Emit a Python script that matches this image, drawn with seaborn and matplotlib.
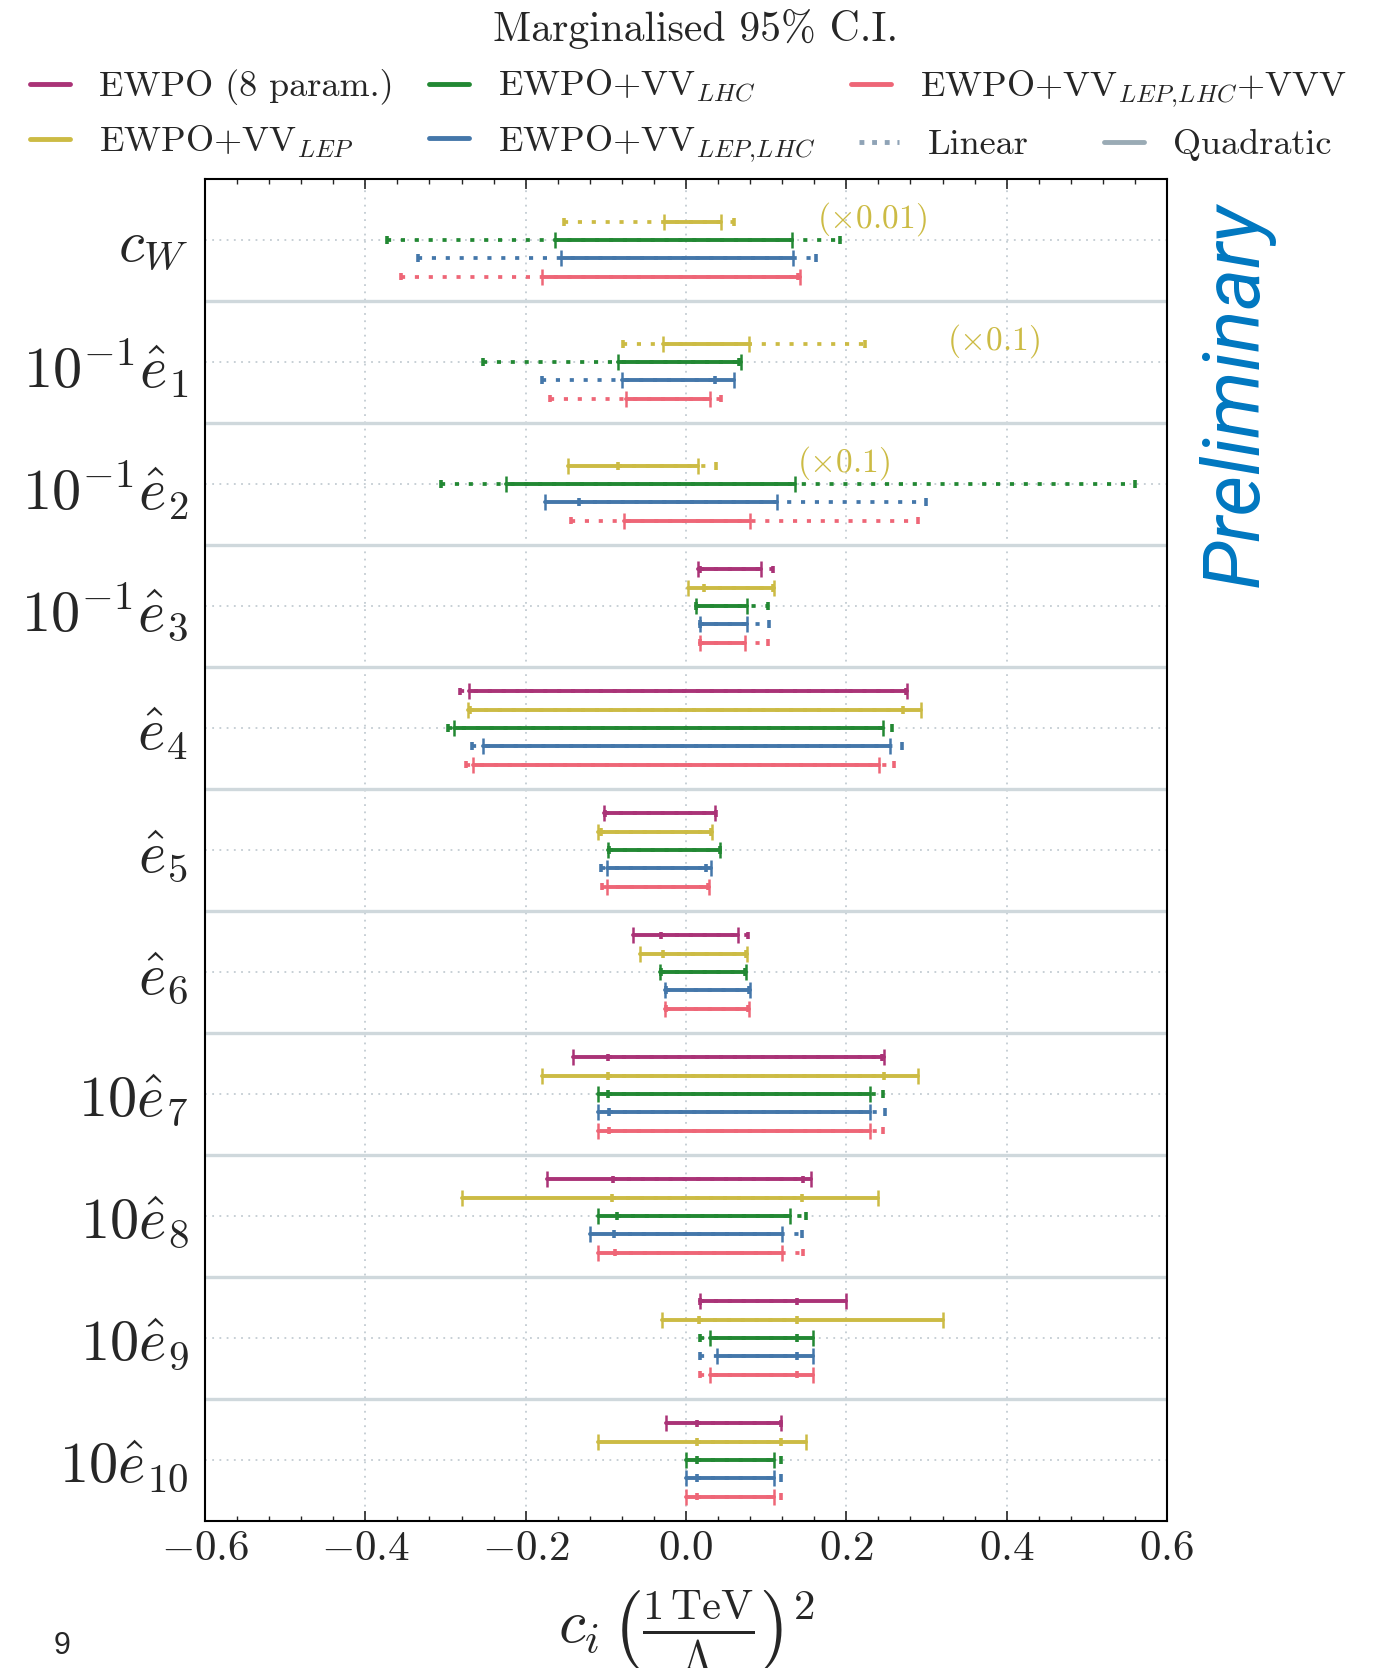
import numpy as np
import pandas as pd
import matplotlib
matplotlib.use("Agg")
import matplotlib.pyplot as plt
from matplotlib.lines import Line2D
from matplotlib.ticker import MultipleLocator
import seaborn as sns

# Wilson coefficients (rows, top to bottom)
params = [r"$c_W$", r"$10^{-1}\hat{e}_1$", r"$10^{-1}\hat{e}_2$", r"$10^{-1}\hat{e}_3$",
          r"$\hat{e}_4$", r"$\hat{e}_5$", r"$\hat{e}_6$", r"$10\hat{e}_7$",
          r"$10\hat{e}_8$", r"$10\hat{e}_9$", r"$10\hat{e}_{10}$"]

datasets = ["EWPO (8 param.)", r"EWPO+VV$_{LEP}$", r"EWPO+VV$_{LHC}$",
            r"EWPO+VV$_{LEP,\!LHC}$", r"EWPO+VV$_{LEP,\!LHC}$+VVV"]
colors = ["#AA3377", "#CCBB44", "#228833", "#4477AA", "#EE6677"]

# 95% C.I. bounds (lo, hi), None where the coefficient is not in the fit
ewpo_linear = [None, None, None, (0.018, 0.108), (-0.282, 0.274), (-0.101, 0.037),
               (-0.031, 0.077), (-0.097, 0.245), (-0.091, 0.146), (0.018, 0.138), (0.014, 0.119)]
ewpo_quadratic = [None, None, None, (0.015, 0.094), (-0.271, 0.276), (-0.102, 0.036),
                  (-0.066, 0.065), (-0.141, 0.247), (-0.173, 0.156), (0.017, 0.199), (-0.025, 0.119)]

lep_linear = [(-0.152, 0.060), (-0.078, 0.223), (-0.085, 0.038), (0.022, 0.108), (-0.270, 0.271),
              (-0.106, 0.031), (-0.029, 0.075), (-0.097, 0.247), (-0.092, 0.145), (0.016, 0.138),
              (0.014, 0.119)]
lep_quadratic = [(-0.027, 0.044), (-0.029, 0.078), (-0.147, 0.015), (0.003, 0.110), (-0.272, 0.293),
                 (-0.110, 0.032), (-0.058, 0.076), (-0.180, 0.290), (-0.280, 0.240), (-0.030, 0.320),
                 (-0.110, 0.150)]

lhc_linear = [(-0.373, 0.192), (-0.253, 0.066), (-0.306, 0.560), (0.013, 0.102), (-0.297, 0.257),
              (-0.096, 0.042), (-0.031, 0.074), (-0.097, 0.246), (-0.086, 0.150), (0.017, 0.138),
              (0.014, 0.119)]
lhc_quadratic = [(-0.164, 0.132), (-0.085, 0.068), (-0.225, 0.136), (0.012, 0.076), (-0.289, 0.246),
                 (-0.097, 0.043), (-0.032, 0.075), (-0.110, 0.229), (-0.110, 0.130), (0.030, 0.159),
                 (0.000, 0.110)]

leplhc_linear = [(-0.334, 0.162), (-0.180, 0.036), (-0.134, 0.299), (0.018, 0.103), (-0.267, 0.269),
                 (-0.106, 0.025), (-0.025, 0.079), (-0.096, 0.248), (-0.090, 0.145), (0.017, 0.138),
                 (0.014, 0.119)]
leplhc_quadratic = [(-0.156, 0.133), (-0.080, 0.060), (-0.176, 0.114), (0.017, 0.076), (-0.253, 0.255),
                    (-0.098, 0.031), (-0.026, 0.080), (-0.110, 0.229), (-0.120, 0.120), (0.039, 0.159),
                    (0.000, 0.110)]

vvv_linear = [(-0.355, 0.140), (-0.170, 0.044), (-0.143, 0.289), (0.018, 0.102), (-0.275, 0.260),
              (-0.105, 0.028), (-0.025, 0.077), (-0.096, 0.246), (-0.089, 0.146), (0.017, 0.138),
              (0.014, 0.119)]
vvv_quadratic = [(-0.180, 0.142), (-0.075, 0.030), (-0.077, 0.080), (0.017, 0.073), (-0.266, 0.241),
                 (-0.099, 0.029), (-0.026, 0.078), (-0.110, 0.229), (-0.110, 0.120), (0.030, 0.159),
                 (0.000, 0.110)]

linear_all = [ewpo_linear, lep_linear, lhc_linear, leplhc_linear, vvv_linear]
quadratic_all = [ewpo_quadratic, lep_quadratic, lhc_quadratic, leplhc_quadratic, vvv_quadratic]

# rescaling notes shown next to the LEP-only bounds
notes = [(0, "(\\times0.01)", 0.163), (1, "(\\times0.1)", 0.325), (2, "(\\times0.1)", 0.139)]

# long table: one row per interval edge
records = []
for j, (name, lin, quad) in enumerate(zip(datasets, linear_all, quadratic_all)):
    for i, (l, q) in enumerate(zip(lin, quad)):
        if l is None:
            continue
        pos = i + (j - 2) * 0.15
        for fit, bounds in (("Linear", l), ("Quadratic", q)):
            for v in bounds:
                records.append({"dataset": name, "fit": fit, "value": v, "pos": pos,
                                "unit": f"{j}-{i}-{fit}"})
df = pd.DataFrame(records)

sns.set_theme(style="ticks", rc={
    "xtick.direction": "in", "ytick.direction": "in",
    "xtick.top": True, "axes.edgecolor": "black", "axes.linewidth": 1.5,
})
plt.rcParams["font.family"] = ["cmr10", "DejaVu Serif"]
plt.rcParams["mathtext.fontset"] = "cm"
plt.rcParams["axes.formatter.use_mathtext"] = True

fig = plt.figure(figsize=(13.92, 16.68), dpi=100)
ax = fig.add_axes([205 / 1392, 1 - 1521 / 1668, 962 / 1392, 1342 / 1668])

lin_df = df[df["fit"] == "Linear"]
quad_df = df[df["fit"] == "Quadratic"]

sns.lineplot(data=lin_df, x="value", y="pos", hue="dataset", hue_order=datasets, palette=colors,
             units="unit", estimator=None, sort=False, linewidth=2.7,
             linestyle=(0, (1.1, 2.6)), legend=False, ax=ax, zorder=3)
sns.scatterplot(data=lin_df, x="value", y="pos", hue="dataset", hue_order=datasets, palette=colors,
                marker="|", s=30, linewidth=2.6, legend=False, ax=ax, zorder=4)
sns.lineplot(data=quad_df, x="value", y="pos", hue="dataset", hue_order=datasets, palette=colors,
             units="unit", estimator=None, sort=False, linewidth=2.8,
             legend=False, ax=ax, zorder=5)
sns.scatterplot(data=quad_df, x="value", y="pos", hue="dataset", hue_order=datasets, palette=colors,
                marker="|", s=135, linewidth=1.8, legend=False, ax=ax, zorder=6)

# group separators
for k in range(len(params) - 1):
    ax.axhline(k + 0.5, color="#CFD8DC", lw=2.4, zorder=1)

for i, txt, x in notes:
    ax.text(x, i - 0.17, f"${txt}$", color="#CCBB44", fontsize=24, ha="left", va="center")

ax.set_xlim(-0.6, 0.6)
ax.set_ylim(len(params) - 0.5, -0.5)
ax.set_yticks(range(len(params)))
ax.set_yticklabels(params)
ax.xaxis.set_major_locator(MultipleLocator(0.2))
ax.xaxis.set_minor_locator(MultipleLocator(0.04))
ax.tick_params(axis="x", which="major", length=7, width=1.2, labelsize=31, pad=7, top=True)
ax.tick_params(axis="x", which="minor", length=3.5, width=1.0, top=True)
ax.tick_params(axis="y", length=0, labelsize=42, pad=12)
ax.grid(True, which="major", ls=(0, (1, 3)), color="#C3CCD2", lw=1.3, zorder=0)
ax.set_ylabel("")
ax.set_xlabel(r"$c_i\,\left(\frac{1\,\mathrm{TeV}}{\Lambda}\right)^2$", fontsize=44, labelpad=14)
for s in ax.spines.values():
    s.set_linewidth(1.5)
    s.set_color("black")

# legends
ds_handles = [Line2D([], [], color=c, lw=3.5) for c in colors]
fig.legend(ds_handles, datasets, ncol=3, loc="center left", bbox_to_anchor=(30 / 1392, 1 - 116 / 1668),
           frameon=False, fontsize=26, handlelength=1.1, handletextpad=0.8, columnspacing=1.0,
           labelspacing=0.5, borderpad=0, borderaxespad=0)
fit_handles = [Line2D([], [], color="#8FA3B6", lw=3.5, ls=(0, (1, 1.6))),
               Line2D([], [], color="#9AABB5", lw=3.5)]
fig.legend(fit_handles, ["Linear", "Quadratic"], ncol=2, loc="center left",
           bbox_to_anchor=(859 / 1392, 1 - 145 / 1668), frameon=False, fontsize=26,
           handlelength=1.1, handletextpad=0.8, columnspacing=2.1, borderpad=0, borderaxespad=0)

fig.text(0.5, 1 - 29 / 1668, "Marginalised 95% C.I.", ha="center", va="center", fontsize=30)
fig.text(1236 / 1392, 1 - 395 / 1668, "Preliminary", rotation=90, ha="center", va="center",
         fontsize=57, style="italic", color="#0077C0", family=["Roboto", "DejaVu Sans"])
fig.text(62 / 1392, 1 - 1646 / 1668, "9", ha="center", va="center", fontsize=22,
         family=["Liberation Sans", "DejaVu Sans"])

fig.savefig("out.png", dpi=100)
